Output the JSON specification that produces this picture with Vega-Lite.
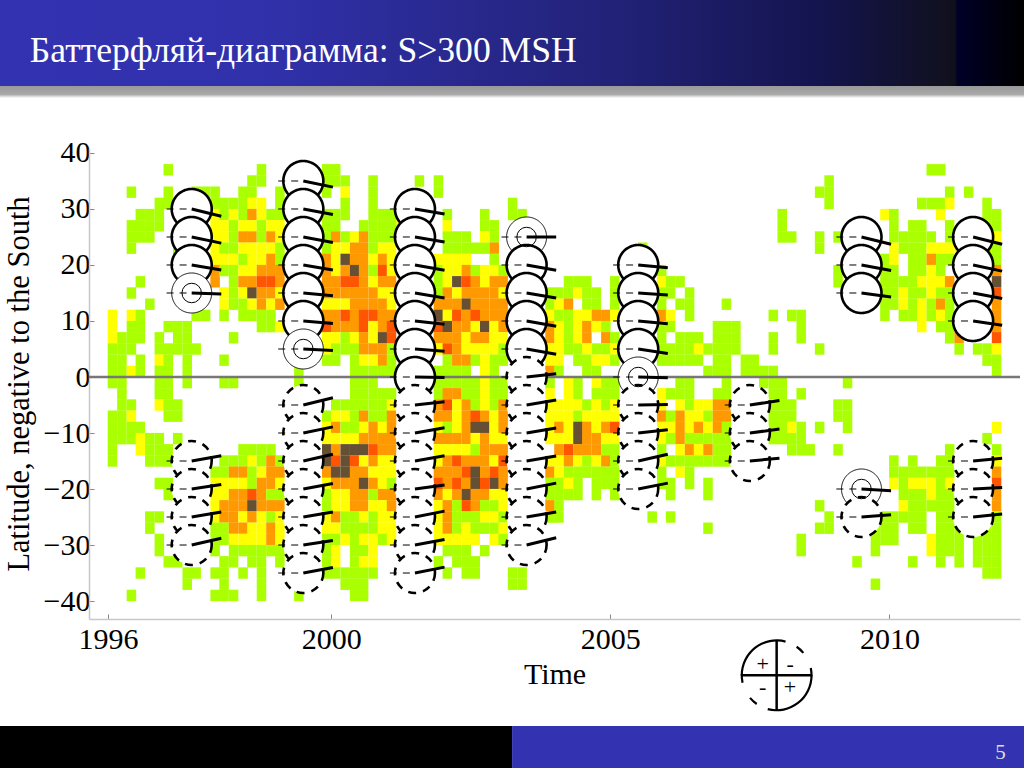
{"$schema":"https://vega.github.io/schema/vega-lite/v6.json","width":931,"height":471,"autosize":"none","padding":{"left":89,"top":148,"right":4,"bottom":149},"background":"white","config":{"view":{"stroke":null},"font":"Liberation Serif"},
"datasets":{"cells":[
{"t":1997.08,"l":37,"v":1},{"t":1998.75,"l":37,"v":1},{"t":1999.92,"l":37,"v":1},{"t":2000.08,"l":37,"v":1},{"t":2010.75,"l":37,"v":1},{"t":2010.92,"l":37,"v":1},
{"t":1998.58,"l":35,"v":1},{"t":1998.75,"l":35,"v":1},{"t":1999.92,"l":35,"v":1},{"t":2000.08,"l":35,"v":1},{"t":2000.25,"l":35,"v":1},{"t":2000.75,"l":35,"v":1},{"t":2001.58,"l":35,"v":1},{"t":2001.92,"l":35,"v":1},{"t":2008.92,"l":35,"v":1},
{"t":1996.42,"l":33,"v":1},{"t":1997.08,"l":33,"v":1},{"t":1997.58,"l":33,"v":1},{"t":1997.75,"l":33,"v":1},{"t":1997.92,"l":33,"v":1},{"t":1998.42,"l":33,"v":1},{"t":1998.58,"l":33,"v":1},{"t":1999.08,"l":33,"v":1},{"t":1999.92,"l":33,"v":1},{"t":2000.25,"l":33,"v":2},{"t":2000.75,"l":33,"v":1},{"t":2001.92,"l":33,"v":1},{"t":2008.75,"l":33,"v":1},{"t":2008.92,"l":33,"v":1},{"t":2011.08,"l":33,"v":1},{"t":2011.42,"l":33,"v":1},
{"t":1996.92,"l":31,"v":1},{"t":1997.08,"l":31,"v":1},{"t":1997.92,"l":31,"v":1},{"t":1998.08,"l":31,"v":1},{"t":1998.25,"l":31,"v":1},{"t":1998.42,"l":31,"v":1},{"t":1998.58,"l":31,"v":2},{"t":1998.75,"l":31,"v":2},{"t":1999.08,"l":31,"v":1},{"t":2000.25,"l":31,"v":1},{"t":2000.75,"l":31,"v":1},{"t":2003.25,"l":31,"v":1},{"t":2008.92,"l":31,"v":1},{"t":2010.58,"l":31,"v":1},{"t":2010.75,"l":31,"v":1},{"t":2010.92,"l":31,"v":1},{"t":2011.08,"l":31,"v":2},{"t":2011.75,"l":31,"v":1},
{"t":1996.58,"l":29,"v":1},{"t":1996.75,"l":29,"v":1},{"t":1996.92,"l":29,"v":1},{"t":1997.92,"l":29,"v":2},{"t":1998.08,"l":29,"v":1},{"t":1998.25,"l":29,"v":2},{"t":1998.42,"l":29,"v":1},{"t":1998.58,"l":29,"v":3},{"t":1998.75,"l":29,"v":2},{"t":1998.92,"l":29,"v":1},{"t":1999.08,"l":29,"v":1},{"t":1999.92,"l":29,"v":1},{"t":2000.08,"l":29,"v":1},{"t":2000.25,"l":29,"v":1},{"t":2000.75,"l":29,"v":1},{"t":2000.92,"l":29,"v":1},{"t":2001.08,"l":29,"v":1},{"t":2001.25,"l":29,"v":1},{"t":2002.08,"l":29,"v":1},{"t":2002.75,"l":29,"v":1},{"t":2003.25,"l":29,"v":1},{"t":2003.42,"l":29,"v":1},{"t":2008.08,"l":29,"v":1},{"t":2009.92,"l":29,"v":2},{"t":2010.08,"l":29,"v":1},{"t":2010.92,"l":29,"v":2},{"t":2011.75,"l":29,"v":1},{"t":2011.92,"l":29,"v":1},
{"t":1996.42,"l":27,"v":1},{"t":1996.58,"l":27,"v":1},{"t":1996.75,"l":27,"v":1},{"t":1996.92,"l":27,"v":1},{"t":1997.92,"l":27,"v":2},{"t":1998.08,"l":27,"v":2},{"t":1998.25,"l":27,"v":1},{"t":1998.42,"l":27,"v":2},{"t":1998.58,"l":27,"v":2},{"t":1998.75,"l":27,"v":1},{"t":1998.92,"l":27,"v":2},{"t":1999.08,"l":27,"v":2},{"t":1999.92,"l":27,"v":1},{"t":2000.08,"l":27,"v":1},{"t":2000.58,"l":27,"v":1},{"t":2000.75,"l":27,"v":1},{"t":2000.92,"l":27,"v":1},{"t":2001.08,"l":27,"v":1},{"t":2001.25,"l":27,"v":2},{"t":2002.08,"l":27,"v":2},{"t":2002.75,"l":27,"v":1},{"t":2002.92,"l":27,"v":1},{"t":2008.08,"l":27,"v":1},{"t":2010.08,"l":27,"v":1},{"t":2010.42,"l":27,"v":1},{"t":2010.58,"l":27,"v":1},{"t":2011.08,"l":27,"v":1},{"t":2011.75,"l":27,"v":1},{"t":2011.92,"l":27,"v":1},
{"t":1996.42,"l":25,"v":1},{"t":1996.58,"l":25,"v":1},{"t":1996.75,"l":25,"v":1},{"t":1997.25,"l":25,"v":1},{"t":1997.92,"l":25,"v":2},{"t":1998.08,"l":25,"v":2},{"t":1998.25,"l":25,"v":1},{"t":1998.42,"l":25,"v":3},{"t":1998.58,"l":25,"v":3},{"t":1998.75,"l":25,"v":1},{"t":1998.92,"l":25,"v":3},{"t":1999.08,"l":25,"v":2},{"t":1999.92,"l":25,"v":1},{"t":2000.08,"l":25,"v":3},{"t":2000.25,"l":25,"v":1},{"t":2000.42,"l":25,"v":2},{"t":2000.58,"l":25,"v":3},{"t":2000.75,"l":25,"v":1},{"t":2000.92,"l":25,"v":1},{"t":2001.08,"l":25,"v":1},{"t":2001.25,"l":25,"v":2},{"t":2002.08,"l":25,"v":1},{"t":2002.25,"l":25,"v":1},{"t":2002.42,"l":25,"v":1},{"t":2002.75,"l":25,"v":2},{"t":2002.92,"l":25,"v":1},{"t":2008.08,"l":25,"v":1},{"t":2008.25,"l":25,"v":1},{"t":2008.75,"l":25,"v":1},{"t":2009.08,"l":25,"v":1},{"t":2010.08,"l":25,"v":1},{"t":2010.25,"l":25,"v":1},{"t":2010.42,"l":25,"v":1},{"t":2010.58,"l":25,"v":1},{"t":2010.75,"l":25,"v":1},{"t":2011.08,"l":25,"v":1},{"t":2011.92,"l":25,"v":2},
{"t":1996.42,"l":23,"v":1},{"t":1997.25,"l":23,"v":1},{"t":1997.92,"l":23,"v":2},{"t":1998.08,"l":23,"v":1},{"t":1998.25,"l":23,"v":1},{"t":1998.42,"l":23,"v":2},{"t":1998.58,"l":23,"v":2},{"t":1998.75,"l":23,"v":2},{"t":1998.92,"l":23,"v":2},{"t":1999.08,"l":23,"v":1},{"t":1999.92,"l":23,"v":1},{"t":2000.08,"l":23,"v":2},{"t":2000.25,"l":23,"v":2},{"t":2000.42,"l":23,"v":3},{"t":2000.58,"l":23,"v":3},{"t":2000.75,"l":23,"v":1},{"t":2000.92,"l":23,"v":2},{"t":2001.08,"l":23,"v":2},{"t":2002.08,"l":23,"v":1},{"t":2002.25,"l":23,"v":1},{"t":2002.42,"l":23,"v":1},{"t":2002.58,"l":23,"v":1},{"t":2002.75,"l":23,"v":1},{"t":2002.92,"l":23,"v":3},{"t":2005.58,"l":23,"v":1},{"t":2008.75,"l":23,"v":1},{"t":2010.08,"l":23,"v":2},{"t":2010.25,"l":23,"v":1},{"t":2010.42,"l":23,"v":1},{"t":2010.58,"l":23,"v":1},{"t":2010.75,"l":23,"v":2},{"t":2010.92,"l":23,"v":2},{"t":2011.08,"l":23,"v":2},{"t":2011.25,"l":23,"v":2},{"t":2011.75,"l":23,"v":1},{"t":2011.92,"l":23,"v":1},
{"t":1997.92,"l":21,"v":2},{"t":1998.08,"l":21,"v":2},{"t":1998.25,"l":21,"v":2},{"t":1998.42,"l":21,"v":1},{"t":1998.58,"l":21,"v":2},{"t":1998.75,"l":21,"v":2},{"t":1998.92,"l":21,"v":3},{"t":1999.08,"l":21,"v":1},{"t":1999.92,"l":21,"v":3},{"t":2000.08,"l":21,"v":2},{"t":2000.25,"l":21,"v":5},{"t":2000.42,"l":21,"v":3},{"t":2000.58,"l":21,"v":3},{"t":2000.75,"l":21,"v":2},{"t":2000.92,"l":21,"v":3},{"t":2001.08,"l":21,"v":2},{"t":2001.92,"l":21,"v":2},{"t":2002.08,"l":21,"v":2},{"t":2002.25,"l":21,"v":2},{"t":2002.42,"l":21,"v":2},{"t":2002.92,"l":21,"v":1},{"t":2009.92,"l":21,"v":1},{"t":2010.08,"l":21,"v":2},{"t":2010.42,"l":21,"v":1},{"t":2010.58,"l":21,"v":1},{"t":2010.75,"l":21,"v":3},{"t":2010.92,"l":21,"v":1},{"t":2011.08,"l":21,"v":1},{"t":2011.75,"l":21,"v":1},{"t":2011.92,"l":21,"v":1},
{"t":1997.92,"l":19,"v":3},{"t":1998.08,"l":19,"v":1},{"t":1998.25,"l":19,"v":1},{"t":1998.42,"l":19,"v":2},{"t":1998.58,"l":19,"v":2},{"t":1998.75,"l":19,"v":3},{"t":1998.92,"l":19,"v":3},{"t":1999.08,"l":19,"v":3},{"t":1999.92,"l":19,"v":3},{"t":2000.08,"l":19,"v":2},{"t":2000.25,"l":19,"v":3},{"t":2000.42,"l":19,"v":5},{"t":2000.58,"l":19,"v":3},{"t":2000.75,"l":19,"v":1},{"t":2000.92,"l":19,"v":4},{"t":2001.08,"l":19,"v":2},{"t":2001.92,"l":19,"v":1},{"t":2002.08,"l":19,"v":2},{"t":2002.25,"l":19,"v":2},{"t":2002.42,"l":19,"v":3},{"t":2002.58,"l":19,"v":1},{"t":2002.75,"l":19,"v":2},{"t":2002.92,"l":19,"v":2},{"t":2003.08,"l":19,"v":1},{"t":2005.92,"l":19,"v":1},{"t":2009.08,"l":19,"v":1},{"t":2009.92,"l":19,"v":1},{"t":2010.08,"l":19,"v":1},{"t":2010.42,"l":19,"v":1},{"t":2010.58,"l":19,"v":1},{"t":2010.75,"l":19,"v":2},{"t":2010.92,"l":19,"v":1},{"t":2011.92,"l":19,"v":3},
{"t":1996.58,"l":17,"v":1},{"t":1997.92,"l":17,"v":3},{"t":1998.25,"l":17,"v":1},{"t":1998.42,"l":17,"v":3},{"t":1998.58,"l":17,"v":3},{"t":1998.75,"l":17,"v":4},{"t":1998.92,"l":17,"v":4},{"t":1999.08,"l":17,"v":3},{"t":1999.92,"l":17,"v":3},{"t":2000.08,"l":17,"v":3},{"t":2000.25,"l":17,"v":4},{"t":2000.42,"l":17,"v":4},{"t":2000.58,"l":17,"v":3},{"t":2000.75,"l":17,"v":2},{"t":2000.92,"l":17,"v":3},{"t":2001.08,"l":17,"v":3},{"t":2001.92,"l":17,"v":1},{"t":2002.08,"l":17,"v":2},{"t":2002.25,"l":17,"v":5},{"t":2002.42,"l":17,"v":4},{"t":2002.58,"l":17,"v":3},{"t":2002.75,"l":17,"v":2},{"t":2002.92,"l":17,"v":3},{"t":2003.08,"l":17,"v":3},{"t":2004.25,"l":17,"v":1},{"t":2004.42,"l":17,"v":1},{"t":2004.58,"l":17,"v":1},{"t":2005.08,"l":17,"v":1},{"t":2005.92,"l":17,"v":2},{"t":2006.08,"l":17,"v":1},{"t":2006.25,"l":17,"v":1},{"t":2009.08,"l":17,"v":1},{"t":2009.92,"l":17,"v":1},{"t":2010.08,"l":17,"v":1},{"t":2010.25,"l":17,"v":1},{"t":2010.42,"l":17,"v":1},{"t":2010.58,"l":17,"v":2},{"t":2010.75,"l":17,"v":2},{"t":2010.92,"l":17,"v":2},{"t":2011.08,"l":17,"v":3},{"t":2011.92,"l":17,"v":5},
{"t":1996.42,"l":15,"v":1},{"t":1998.08,"l":15,"v":2},{"t":1998.25,"l":15,"v":1},{"t":1998.42,"l":15,"v":2},{"t":1998.58,"l":15,"v":5},{"t":1998.75,"l":15,"v":3},{"t":1998.92,"l":15,"v":3},{"t":1999.08,"l":15,"v":2},{"t":1999.92,"l":15,"v":3},{"t":2000.08,"l":15,"v":3},{"t":2000.25,"l":15,"v":3},{"t":2000.42,"l":15,"v":3},{"t":2000.58,"l":15,"v":3},{"t":2000.75,"l":15,"v":3},{"t":2000.92,"l":15,"v":2},{"t":2001.08,"l":15,"v":2},{"t":2001.92,"l":15,"v":1},{"t":2002.08,"l":15,"v":3},{"t":2002.25,"l":15,"v":2},{"t":2002.42,"l":15,"v":3},{"t":2002.58,"l":15,"v":3},{"t":2002.75,"l":15,"v":3},{"t":2002.92,"l":15,"v":3},{"t":2003.08,"l":15,"v":2},{"t":2003.92,"l":15,"v":1},{"t":2004.08,"l":15,"v":1},{"t":2004.25,"l":15,"v":1},{"t":2004.42,"l":15,"v":2},{"t":2004.58,"l":15,"v":1},{"t":2004.75,"l":15,"v":1},{"t":2005.08,"l":15,"v":1},{"t":2005.92,"l":15,"v":1},{"t":2006.08,"l":15,"v":1},{"t":2006.42,"l":15,"v":1},{"t":2009.92,"l":15,"v":1},{"t":2010.08,"l":15,"v":1},{"t":2010.25,"l":15,"v":2},{"t":2010.42,"l":15,"v":1},{"t":2010.58,"l":15,"v":1},{"t":2010.75,"l":15,"v":2},{"t":2010.92,"l":15,"v":1},{"t":2011.08,"l":15,"v":1},{"t":2011.92,"l":15,"v":4},
{"t":1996.75,"l":13,"v":1},{"t":1998.08,"l":13,"v":2},{"t":1998.25,"l":13,"v":1},{"t":1998.42,"l":13,"v":1},{"t":1998.58,"l":13,"v":2},{"t":1998.75,"l":13,"v":3},{"t":1998.92,"l":13,"v":2},{"t":1999.08,"l":13,"v":3},{"t":1999.92,"l":13,"v":2},{"t":2000.08,"l":13,"v":2},{"t":2000.25,"l":13,"v":2},{"t":2000.42,"l":13,"v":3},{"t":2000.58,"l":13,"v":3},{"t":2000.75,"l":13,"v":3},{"t":2000.92,"l":13,"v":3},{"t":2001.08,"l":13,"v":2},{"t":2001.92,"l":13,"v":3},{"t":2002.08,"l":13,"v":3},{"t":2002.25,"l":13,"v":3},{"t":2002.42,"l":13,"v":5},{"t":2002.58,"l":13,"v":3},{"t":2002.75,"l":13,"v":3},{"t":2002.92,"l":13,"v":3},{"t":2003.08,"l":13,"v":3},{"t":2003.92,"l":13,"v":1},{"t":2004.08,"l":13,"v":2},{"t":2004.25,"l":13,"v":3},{"t":2004.58,"l":13,"v":1},{"t":2004.75,"l":13,"v":1},{"t":2005.08,"l":13,"v":1},{"t":2005.92,"l":13,"v":1},{"t":2006.25,"l":13,"v":1},{"t":2006.42,"l":13,"v":1},{"t":2007.08,"l":13,"v":1},{"t":2009.92,"l":13,"v":1},{"t":2010.08,"l":13,"v":1},{"t":2010.25,"l":13,"v":2},{"t":2010.42,"l":13,"v":1},{"t":2010.58,"l":13,"v":2},{"t":2010.75,"l":13,"v":1},{"t":2010.92,"l":13,"v":3},{"t":2011.08,"l":13,"v":1},{"t":2011.92,"l":13,"v":3},
{"t":1996.08,"l":11,"v":2},{"t":1996.42,"l":11,"v":2},{"t":1996.58,"l":11,"v":1},{"t":1997.58,"l":11,"v":1},{"t":1997.75,"l":11,"v":1},{"t":1998.08,"l":11,"v":1},{"t":1998.42,"l":11,"v":1},{"t":1998.58,"l":11,"v":1},{"t":1998.75,"l":11,"v":1},{"t":1998.92,"l":11,"v":1},{"t":1999.92,"l":11,"v":3},{"t":2000.08,"l":11,"v":3},{"t":2000.25,"l":11,"v":4},{"t":2000.42,"l":11,"v":3},{"t":2000.58,"l":11,"v":4},{"t":2000.75,"l":11,"v":4},{"t":2000.92,"l":11,"v":3},{"t":2001.08,"l":11,"v":3},{"t":2001.92,"l":11,"v":5},{"t":2002.08,"l":11,"v":2},{"t":2002.25,"l":11,"v":4},{"t":2002.42,"l":11,"v":3},{"t":2002.58,"l":11,"v":4},{"t":2002.75,"l":11,"v":3},{"t":2002.92,"l":11,"v":3},{"t":2003.08,"l":11,"v":3},{"t":2003.92,"l":11,"v":2},{"t":2004.08,"l":11,"v":1},{"t":2004.25,"l":11,"v":1},{"t":2004.42,"l":11,"v":2},{"t":2004.58,"l":11,"v":2},{"t":2004.75,"l":11,"v":3},{"t":2004.92,"l":11,"v":3},{"t":2005.08,"l":11,"v":2},{"t":2005.92,"l":11,"v":3},{"t":2006.08,"l":11,"v":2},{"t":2006.42,"l":11,"v":1},{"t":2007.92,"l":11,"v":1},{"t":2008.25,"l":11,"v":1},{"t":2008.42,"l":11,"v":1},{"t":2009.92,"l":11,"v":1},{"t":2010.25,"l":11,"v":1},{"t":2010.42,"l":11,"v":1},{"t":2010.58,"l":11,"v":2},{"t":2010.75,"l":11,"v":1},{"t":2010.92,"l":11,"v":2},{"t":2011.08,"l":11,"v":1},{"t":2011.92,"l":11,"v":3},
{"t":1996.08,"l":9,"v":2},{"t":1996.42,"l":9,"v":1},{"t":1996.58,"l":9,"v":1},{"t":1997.08,"l":9,"v":1},{"t":1997.25,"l":9,"v":1},{"t":1997.42,"l":9,"v":1},{"t":1998.75,"l":9,"v":1},{"t":1998.92,"l":9,"v":1},{"t":1999.08,"l":9,"v":2},{"t":1999.92,"l":9,"v":4},{"t":2000.08,"l":9,"v":3},{"t":2000.25,"l":9,"v":3},{"t":2000.42,"l":9,"v":3},{"t":2000.58,"l":9,"v":4},{"t":2000.75,"l":9,"v":2},{"t":2000.92,"l":9,"v":3},{"t":2001.08,"l":9,"v":4},{"t":2001.92,"l":9,"v":4},{"t":2002.08,"l":9,"v":5},{"t":2002.25,"l":9,"v":3},{"t":2002.42,"l":9,"v":3},{"t":2002.58,"l":9,"v":2},{"t":2002.75,"l":9,"v":5},{"t":2002.92,"l":9,"v":2},{"t":2003.08,"l":9,"v":3},{"t":2003.92,"l":9,"v":3},{"t":2004.08,"l":9,"v":2},{"t":2004.25,"l":9,"v":1},{"t":2004.42,"l":9,"v":2},{"t":2004.58,"l":9,"v":3},{"t":2004.75,"l":9,"v":2},{"t":2004.92,"l":9,"v":1},{"t":2005.92,"l":9,"v":1},{"t":2006.08,"l":9,"v":1},{"t":2006.92,"l":9,"v":1},{"t":2007.08,"l":9,"v":1},{"t":2007.25,"l":9,"v":1},{"t":2008.42,"l":9,"v":1},{"t":2010.58,"l":9,"v":2},{"t":2010.92,"l":9,"v":1},{"t":2011.08,"l":9,"v":1},{"t":2011.92,"l":9,"v":3},
{"t":1996.08,"l":7,"v":2},{"t":1996.25,"l":7,"v":1},{"t":1996.42,"l":7,"v":1},{"t":1996.58,"l":7,"v":1},{"t":1996.92,"l":7,"v":1},{"t":1997.25,"l":7,"v":1},{"t":1997.42,"l":7,"v":1},{"t":1998.25,"l":7,"v":1},{"t":1999.92,"l":7,"v":2},{"t":2000.08,"l":7,"v":2},{"t":2000.25,"l":7,"v":1},{"t":2000.42,"l":7,"v":2},{"t":2000.58,"l":7,"v":3},{"t":2000.75,"l":7,"v":2},{"t":2000.92,"l":7,"v":5},{"t":2001.08,"l":7,"v":4},{"t":2001.92,"l":7,"v":3},{"t":2002.08,"l":7,"v":3},{"t":2002.25,"l":7,"v":3},{"t":2002.42,"l":7,"v":2},{"t":2002.58,"l":7,"v":3},{"t":2002.75,"l":7,"v":3},{"t":2002.92,"l":7,"v":2},{"t":2003.08,"l":7,"v":2},{"t":2003.92,"l":7,"v":3},{"t":2004.08,"l":7,"v":2},{"t":2004.25,"l":7,"v":1},{"t":2004.42,"l":7,"v":2},{"t":2004.58,"l":7,"v":3},{"t":2004.92,"l":7,"v":3},{"t":2005.08,"l":7,"v":1},{"t":2005.92,"l":7,"v":1},{"t":2006.25,"l":7,"v":1},{"t":2006.42,"l":7,"v":1},{"t":2006.58,"l":7,"v":1},{"t":2006.92,"l":7,"v":1},{"t":2007.08,"l":7,"v":1},{"t":2007.25,"l":7,"v":1},{"t":2007.92,"l":7,"v":1},{"t":2008.42,"l":7,"v":1},{"t":2011.08,"l":7,"v":1},{"t":2011.25,"l":7,"v":3},{"t":2011.92,"l":7,"v":4},
{"t":1996.08,"l":5,"v":1},{"t":1996.25,"l":5,"v":1},{"t":1996.42,"l":5,"v":1},{"t":1996.92,"l":5,"v":1},{"t":1997.08,"l":5,"v":1},{"t":1997.25,"l":5,"v":1},{"t":1997.42,"l":5,"v":1},{"t":1997.58,"l":5,"v":1},{"t":1999.92,"l":5,"v":2},{"t":2000.08,"l":5,"v":1},{"t":2000.25,"l":5,"v":1},{"t":2000.42,"l":5,"v":1},{"t":2000.58,"l":5,"v":3},{"t":2000.75,"l":5,"v":3},{"t":2000.92,"l":5,"v":3},{"t":2001.08,"l":5,"v":1},{"t":2001.92,"l":5,"v":2},{"t":2002.08,"l":5,"v":4},{"t":2002.25,"l":5,"v":3},{"t":2002.42,"l":5,"v":2},{"t":2002.58,"l":5,"v":2},{"t":2002.75,"l":5,"v":2},{"t":2002.92,"l":5,"v":2},{"t":2003.08,"l":5,"v":1},{"t":2003.92,"l":5,"v":2},{"t":2004.08,"l":5,"v":2},{"t":2004.25,"l":5,"v":1},{"t":2004.42,"l":5,"v":1},{"t":2004.58,"l":5,"v":2},{"t":2004.75,"l":5,"v":1},{"t":2004.92,"l":5,"v":1},{"t":2005.08,"l":5,"v":2},{"t":2005.92,"l":5,"v":1},{"t":2006.08,"l":5,"v":1},{"t":2006.25,"l":5,"v":1},{"t":2006.42,"l":5,"v":1},{"t":2006.58,"l":5,"v":2},{"t":2006.75,"l":5,"v":1},{"t":2006.92,"l":5,"v":1},{"t":2007.08,"l":5,"v":1},{"t":2007.25,"l":5,"v":1},{"t":2007.92,"l":5,"v":1},{"t":2008.75,"l":5,"v":1},{"t":2011.25,"l":5,"v":1},{"t":2011.58,"l":5,"v":1},{"t":2011.75,"l":5,"v":1},{"t":2011.92,"l":5,"v":2},
{"t":1996.08,"l":3,"v":1},{"t":1996.25,"l":3,"v":1},{"t":1996.58,"l":3,"v":1},{"t":1996.92,"l":3,"v":2},{"t":1997.08,"l":3,"v":1},{"t":1997.42,"l":3,"v":1},{"t":1998.08,"l":3,"v":1},{"t":1999.92,"l":3,"v":1},{"t":2000.08,"l":3,"v":1},{"t":2000.42,"l":3,"v":1},{"t":2000.58,"l":3,"v":2},{"t":2000.75,"l":3,"v":2},{"t":2000.92,"l":3,"v":3},{"t":2001.08,"l":3,"v":1},{"t":2002.08,"l":3,"v":1},{"t":2002.25,"l":3,"v":3},{"t":2002.42,"l":3,"v":3},{"t":2002.58,"l":3,"v":1},{"t":2002.75,"l":3,"v":2},{"t":2002.92,"l":3,"v":1},{"t":2003.08,"l":3,"v":1},{"t":2003.92,"l":3,"v":2},{"t":2004.08,"l":3,"v":2},{"t":2004.42,"l":3,"v":1},{"t":2004.58,"l":3,"v":1},{"t":2004.75,"l":3,"v":2},{"t":2004.92,"l":3,"v":2},{"t":2005.08,"l":3,"v":1},{"t":2005.92,"l":3,"v":1},{"t":2006.08,"l":3,"v":1},{"t":2006.25,"l":3,"v":1},{"t":2006.42,"l":3,"v":1},{"t":2006.58,"l":3,"v":1},{"t":2006.92,"l":3,"v":1},{"t":2007.08,"l":3,"v":1},{"t":2007.42,"l":3,"v":1},{"t":2007.58,"l":3,"v":1},{"t":2011.75,"l":3,"v":1},{"t":2011.92,"l":3,"v":1},
{"t":1996.08,"l":1,"v":1},{"t":1996.25,"l":1,"v":1},{"t":1996.42,"l":1,"v":2},{"t":1996.58,"l":1,"v":1},{"t":1996.92,"l":1,"v":1},{"t":1997.08,"l":1,"v":1},{"t":1997.42,"l":1,"v":1},{"t":1999.42,"l":1,"v":1},{"t":2000.42,"l":1,"v":1},{"t":2000.58,"l":1,"v":1},{"t":2000.75,"l":1,"v":1},{"t":2000.92,"l":1,"v":1},{"t":2001.08,"l":1,"v":1},{"t":2001.92,"l":1,"v":1},{"t":2002.08,"l":1,"v":1},{"t":2002.25,"l":1,"v":1},{"t":2002.42,"l":1,"v":1},{"t":2002.75,"l":1,"v":2},{"t":2002.92,"l":1,"v":1},{"t":2003.92,"l":1,"v":3},{"t":2004.08,"l":1,"v":1},{"t":2004.58,"l":1,"v":1},{"t":2004.75,"l":1,"v":1},{"t":2006.75,"l":1,"v":1},{"t":2006.92,"l":1,"v":1},{"t":2007.08,"l":1,"v":1},{"t":2007.42,"l":1,"v":1},{"t":2007.58,"l":1,"v":1},{"t":2007.75,"l":1,"v":1},{"t":2007.92,"l":1,"v":1},{"t":2011.92,"l":1,"v":1},
{"t":1996.08,"l":-1,"v":1},{"t":1996.25,"l":-1,"v":1},{"t":1996.92,"l":-1,"v":1},{"t":1997.08,"l":-1,"v":1},{"t":1997.42,"l":-1,"v":1},{"t":1998.08,"l":-1,"v":1},{"t":1998.25,"l":-1,"v":1},{"t":1999.42,"l":-1,"v":1},{"t":2000.42,"l":-1,"v":1},{"t":2000.58,"l":-1,"v":1},{"t":2000.75,"l":-1,"v":1},{"t":2001.92,"l":-1,"v":1},{"t":2002.08,"l":-1,"v":1},{"t":2002.25,"l":-1,"v":1},{"t":2002.42,"l":-1,"v":1},{"t":2002.58,"l":-1,"v":1},{"t":2002.75,"l":-1,"v":2},{"t":2002.92,"l":-1,"v":1},{"t":2003.08,"l":-1,"v":1},{"t":2003.92,"l":-1,"v":1},{"t":2004.25,"l":-1,"v":2},{"t":2004.42,"l":-1,"v":1},{"t":2004.75,"l":-1,"v":2},{"t":2004.92,"l":-1,"v":1},{"t":2005.08,"l":-1,"v":1},{"t":2006.25,"l":-1,"v":1},{"t":2006.42,"l":-1,"v":1},{"t":2007.08,"l":-1,"v":1},{"t":2007.75,"l":-1,"v":1},{"t":2007.92,"l":-1,"v":1},{"t":2008.08,"l":-1,"v":1},{"t":2009.25,"l":-1,"v":1},
{"t":1996.25,"l":-3,"v":1},{"t":1996.92,"l":-3,"v":1},{"t":1997.08,"l":-3,"v":1},{"t":2000.42,"l":-3,"v":1},{"t":2000.58,"l":-3,"v":1},{"t":2000.75,"l":-3,"v":1},{"t":2000.92,"l":-3,"v":1},{"t":2001.08,"l":-3,"v":1},{"t":2001.92,"l":-3,"v":1},{"t":2002.08,"l":-3,"v":3},{"t":2002.25,"l":-3,"v":3},{"t":2002.42,"l":-3,"v":1},{"t":2002.58,"l":-3,"v":1},{"t":2002.75,"l":-3,"v":2},{"t":2002.92,"l":-3,"v":1},{"t":2003.08,"l":-3,"v":1},{"t":2003.92,"l":-3,"v":2},{"t":2004.25,"l":-3,"v":2},{"t":2004.42,"l":-3,"v":1},{"t":2004.75,"l":-3,"v":1},{"t":2004.92,"l":-3,"v":1},{"t":2005.08,"l":-3,"v":1},{"t":2005.92,"l":-3,"v":2},{"t":2006.08,"l":-3,"v":1},{"t":2006.25,"l":-3,"v":1},{"t":2006.42,"l":-3,"v":1},{"t":2006.92,"l":-3,"v":1},{"t":2007.08,"l":-3,"v":1},{"t":2007.92,"l":-3,"v":1},{"t":2008.08,"l":-3,"v":1},{"t":2008.42,"l":-3,"v":1},
{"t":1996.25,"l":-5,"v":1},{"t":1996.42,"l":-5,"v":1},{"t":1996.92,"l":-5,"v":2},{"t":1997.08,"l":-5,"v":1},{"t":1997.25,"l":-5,"v":1},{"t":2000.08,"l":-5,"v":1},{"t":2000.25,"l":-5,"v":1},{"t":2000.42,"l":-5,"v":1},{"t":2000.58,"l":-5,"v":1},{"t":2000.75,"l":-5,"v":1},{"t":2000.92,"l":-5,"v":1},{"t":2001.08,"l":-5,"v":2},{"t":2001.92,"l":-5,"v":3},{"t":2002.08,"l":-5,"v":4},{"t":2002.25,"l":-5,"v":2},{"t":2002.42,"l":-5,"v":3},{"t":2002.58,"l":-5,"v":1},{"t":2002.75,"l":-5,"v":2},{"t":2002.92,"l":-5,"v":1},{"t":2003.08,"l":-5,"v":3},{"t":2003.92,"l":-5,"v":2},{"t":2004.08,"l":-5,"v":2},{"t":2004.25,"l":-5,"v":2},{"t":2004.42,"l":-5,"v":2},{"t":2004.58,"l":-5,"v":1},{"t":2004.75,"l":-5,"v":2},{"t":2004.92,"l":-5,"v":1},{"t":2005.08,"l":-5,"v":2},{"t":2005.92,"l":-5,"v":2},{"t":2006.25,"l":-5,"v":2},{"t":2006.42,"l":-5,"v":1},{"t":2006.58,"l":-5,"v":2},{"t":2006.75,"l":-5,"v":2},{"t":2006.92,"l":-5,"v":3},{"t":2007.08,"l":-5,"v":3},{"t":2007.92,"l":-5,"v":1},{"t":2008.08,"l":-5,"v":1},{"t":2008.25,"l":-5,"v":1},{"t":2009.08,"l":-5,"v":1},{"t":2009.25,"l":-5,"v":1},
{"t":1996.08,"l":-7,"v":1},{"t":1996.25,"l":-7,"v":1},{"t":1996.42,"l":-7,"v":2},{"t":1997.08,"l":-7,"v":1},{"t":1997.25,"l":-7,"v":1},{"t":1999.92,"l":-7,"v":1},{"t":2000.08,"l":-7,"v":2},{"t":2000.25,"l":-7,"v":2},{"t":2000.42,"l":-7,"v":1},{"t":2000.58,"l":-7,"v":3},{"t":2000.75,"l":-7,"v":1},{"t":2000.92,"l":-7,"v":1},{"t":2001.08,"l":-7,"v":3},{"t":2001.92,"l":-7,"v":3},{"t":2002.08,"l":-7,"v":3},{"t":2002.25,"l":-7,"v":2},{"t":2002.42,"l":-7,"v":3},{"t":2002.58,"l":-7,"v":4},{"t":2002.75,"l":-7,"v":3},{"t":2002.92,"l":-7,"v":2},{"t":2003.08,"l":-7,"v":3},{"t":2003.92,"l":-7,"v":2},{"t":2004.08,"l":-7,"v":2},{"t":2004.25,"l":-7,"v":2},{"t":2004.42,"l":-7,"v":1},{"t":2004.58,"l":-7,"v":2},{"t":2004.75,"l":-7,"v":2},{"t":2004.92,"l":-7,"v":2},{"t":2005.08,"l":-7,"v":2},{"t":2005.92,"l":-7,"v":3},{"t":2006.08,"l":-7,"v":1},{"t":2006.25,"l":-7,"v":3},{"t":2006.42,"l":-7,"v":2},{"t":2006.58,"l":-7,"v":2},{"t":2006.75,"l":-7,"v":1},{"t":2006.92,"l":-7,"v":3},{"t":2007.08,"l":-7,"v":3},{"t":2007.92,"l":-7,"v":1},{"t":2008.08,"l":-7,"v":1},{"t":2008.25,"l":-7,"v":1},{"t":2009.08,"l":-7,"v":1},{"t":2009.25,"l":-7,"v":1},
{"t":1996.08,"l":-9,"v":1},{"t":1996.25,"l":-9,"v":1},{"t":1996.42,"l":-9,"v":1},{"t":1996.58,"l":-9,"v":1},{"t":1999.92,"l":-9,"v":2},{"t":2000.08,"l":-9,"v":3},{"t":2000.25,"l":-9,"v":1},{"t":2000.42,"l":-9,"v":1},{"t":2000.58,"l":-9,"v":2},{"t":2000.75,"l":-9,"v":3},{"t":2000.92,"l":-9,"v":2},{"t":2001.08,"l":-9,"v":3},{"t":2001.92,"l":-9,"v":2},{"t":2002.08,"l":-9,"v":1},{"t":2002.25,"l":-9,"v":2},{"t":2002.42,"l":-9,"v":3},{"t":2002.58,"l":-9,"v":5},{"t":2002.75,"l":-9,"v":5},{"t":2002.92,"l":-9,"v":2},{"t":2003.08,"l":-9,"v":3},{"t":2003.92,"l":-9,"v":2},{"t":2004.08,"l":-9,"v":3},{"t":2004.25,"l":-9,"v":2},{"t":2004.42,"l":-9,"v":5},{"t":2004.58,"l":-9,"v":3},{"t":2004.75,"l":-9,"v":2},{"t":2004.92,"l":-9,"v":3},{"t":2005.08,"l":-9,"v":4},{"t":2005.92,"l":-9,"v":2},{"t":2006.08,"l":-9,"v":2},{"t":2006.25,"l":-9,"v":3},{"t":2006.42,"l":-9,"v":2},{"t":2006.58,"l":-9,"v":3},{"t":2006.75,"l":-9,"v":2},{"t":2006.92,"l":-9,"v":3},{"t":2007.08,"l":-9,"v":1},{"t":2007.92,"l":-9,"v":1},{"t":2008.08,"l":-9,"v":1},{"t":2008.25,"l":-9,"v":2},{"t":2008.42,"l":-9,"v":1},{"t":2008.75,"l":-9,"v":1},{"t":2009.25,"l":-9,"v":1},{"t":2011.92,"l":-9,"v":2},
{"t":1996.08,"l":-11,"v":1},{"t":1996.25,"l":-11,"v":1},{"t":1996.42,"l":-11,"v":1},{"t":1996.58,"l":-11,"v":2},{"t":1996.75,"l":-11,"v":1},{"t":1996.92,"l":-11,"v":1},{"t":1997.25,"l":-11,"v":1},{"t":1999.92,"l":-11,"v":2},{"t":2000.08,"l":-11,"v":2},{"t":2000.25,"l":-11,"v":2},{"t":2000.42,"l":-11,"v":2},{"t":2000.58,"l":-11,"v":3},{"t":2000.75,"l":-11,"v":3},{"t":2000.92,"l":-11,"v":3},{"t":2001.08,"l":-11,"v":3},{"t":2001.92,"l":-11,"v":3},{"t":2002.08,"l":-11,"v":3},{"t":2002.25,"l":-11,"v":3},{"t":2002.42,"l":-11,"v":3},{"t":2002.58,"l":-11,"v":2},{"t":2002.75,"l":-11,"v":3},{"t":2002.92,"l":-11,"v":2},{"t":2003.08,"l":-11,"v":2},{"t":2003.92,"l":-11,"v":2},{"t":2004.08,"l":-11,"v":2},{"t":2004.25,"l":-11,"v":2},{"t":2004.42,"l":-11,"v":5},{"t":2004.58,"l":-11,"v":3},{"t":2004.75,"l":-11,"v":3},{"t":2004.92,"l":-11,"v":2},{"t":2005.08,"l":-11,"v":2},{"t":2005.92,"l":-11,"v":2},{"t":2006.08,"l":-11,"v":1},{"t":2006.25,"l":-11,"v":3},{"t":2006.42,"l":-11,"v":1},{"t":2006.58,"l":-11,"v":1},{"t":2006.75,"l":-11,"v":1},{"t":2006.92,"l":-11,"v":1},{"t":2007.08,"l":-11,"v":1},{"t":2007.92,"l":-11,"v":1},{"t":2008.08,"l":-11,"v":1},{"t":2008.25,"l":-11,"v":1},{"t":2008.42,"l":-11,"v":1},{"t":2011.75,"l":-11,"v":1},
{"t":1996.08,"l":-13,"v":1},{"t":1996.58,"l":-13,"v":2},{"t":1996.75,"l":-13,"v":1},{"t":1996.92,"l":-13,"v":1},{"t":1997.08,"l":-13,"v":1},{"t":1998.42,"l":-13,"v":1},{"t":1998.58,"l":-13,"v":1},{"t":1998.75,"l":-13,"v":1},{"t":1998.92,"l":-13,"v":1},{"t":1999.92,"l":-13,"v":5},{"t":2000.08,"l":-13,"v":3},{"t":2000.25,"l":-13,"v":5},{"t":2000.42,"l":-13,"v":5},{"t":2000.58,"l":-13,"v":5},{"t":2000.75,"l":-13,"v":4},{"t":2000.92,"l":-13,"v":3},{"t":2001.08,"l":-13,"v":3},{"t":2001.92,"l":-13,"v":2},{"t":2002.08,"l":-13,"v":2},{"t":2002.25,"l":-13,"v":2},{"t":2002.42,"l":-13,"v":2},{"t":2002.58,"l":-13,"v":1},{"t":2002.75,"l":-13,"v":3},{"t":2002.92,"l":-13,"v":3},{"t":2003.08,"l":-13,"v":3},{"t":2004.08,"l":-13,"v":3},{"t":2004.25,"l":-13,"v":4},{"t":2004.42,"l":-13,"v":3},{"t":2004.58,"l":-13,"v":3},{"t":2004.75,"l":-13,"v":3},{"t":2004.92,"l":-13,"v":1},{"t":2005.08,"l":-13,"v":1},{"t":2005.92,"l":-13,"v":1},{"t":2006.25,"l":-13,"v":2},{"t":2006.42,"l":-13,"v":3},{"t":2006.58,"l":-13,"v":2},{"t":2006.75,"l":-13,"v":3},{"t":2006.92,"l":-13,"v":1},{"t":2007.08,"l":-13,"v":1},{"t":2008.25,"l":-13,"v":1},{"t":2008.42,"l":-13,"v":1},{"t":2008.58,"l":-13,"v":1},{"t":2009.08,"l":-13,"v":1},{"t":2011.08,"l":-13,"v":1},{"t":2011.92,"l":-13,"v":1},
{"t":1996.08,"l":-15,"v":1},{"t":1996.75,"l":-15,"v":1},{"t":1996.92,"l":-15,"v":1},{"t":1997.08,"l":-15,"v":1},{"t":1998.08,"l":-15,"v":1},{"t":1998.25,"l":-15,"v":1},{"t":1998.42,"l":-15,"v":1},{"t":1998.58,"l":-15,"v":2},{"t":1998.75,"l":-15,"v":1},{"t":1998.92,"l":-15,"v":3},{"t":1999.08,"l":-15,"v":1},{"t":1999.92,"l":-15,"v":5},{"t":2000.08,"l":-15,"v":4},{"t":2000.25,"l":-15,"v":5},{"t":2000.42,"l":-15,"v":4},{"t":2000.58,"l":-15,"v":2},{"t":2000.75,"l":-15,"v":3},{"t":2000.92,"l":-15,"v":2},{"t":2001.08,"l":-15,"v":2},{"t":2001.92,"l":-15,"v":2},{"t":2002.08,"l":-15,"v":3},{"t":2002.25,"l":-15,"v":4},{"t":2002.42,"l":-15,"v":3},{"t":2002.58,"l":-15,"v":3},{"t":2002.75,"l":-15,"v":3},{"t":2002.92,"l":-15,"v":2},{"t":2003.08,"l":-15,"v":4},{"t":2003.92,"l":-15,"v":2},{"t":2004.08,"l":-15,"v":2},{"t":2004.25,"l":-15,"v":3},{"t":2004.42,"l":-15,"v":2},{"t":2004.58,"l":-15,"v":1},{"t":2004.75,"l":-15,"v":2},{"t":2004.92,"l":-15,"v":3},{"t":2005.08,"l":-15,"v":1},{"t":2005.92,"l":-15,"v":2},{"t":2006.08,"l":-15,"v":1},{"t":2006.25,"l":-15,"v":1},{"t":2006.42,"l":-15,"v":1},{"t":2006.58,"l":-15,"v":1},{"t":2006.75,"l":-15,"v":1},{"t":2006.92,"l":-15,"v":1},{"t":2007.08,"l":-15,"v":1},{"t":2010.08,"l":-15,"v":1},{"t":2010.42,"l":-15,"v":1},{"t":2010.92,"l":-15,"v":1},{"t":2011.08,"l":-15,"v":1},{"t":2011.92,"l":-15,"v":2},
{"t":1997.92,"l":-17,"v":1},{"t":1998.08,"l":-17,"v":1},{"t":1998.25,"l":-17,"v":3},{"t":1998.42,"l":-17,"v":3},{"t":1998.58,"l":-17,"v":1},{"t":1998.75,"l":-17,"v":2},{"t":1998.92,"l":-17,"v":3},{"t":1999.08,"l":-17,"v":3},{"t":1999.92,"l":-17,"v":3},{"t":2000.08,"l":-17,"v":5},{"t":2000.25,"l":-17,"v":5},{"t":2000.42,"l":-17,"v":3},{"t":2000.58,"l":-17,"v":3},{"t":2000.75,"l":-17,"v":2},{"t":2000.92,"l":-17,"v":2},{"t":2001.08,"l":-17,"v":2},{"t":2001.92,"l":-17,"v":3},{"t":2002.08,"l":-17,"v":3},{"t":2002.25,"l":-17,"v":3},{"t":2002.42,"l":-17,"v":4},{"t":2002.58,"l":-17,"v":5},{"t":2002.75,"l":-17,"v":3},{"t":2002.92,"l":-17,"v":4},{"t":2003.08,"l":-17,"v":3},{"t":2003.92,"l":-17,"v":3},{"t":2004.08,"l":-17,"v":2},{"t":2004.25,"l":-17,"v":1},{"t":2004.42,"l":-17,"v":1},{"t":2004.58,"l":-17,"v":1},{"t":2004.75,"l":-17,"v":1},{"t":2004.92,"l":-17,"v":1},{"t":2005.08,"l":-17,"v":1},{"t":2005.92,"l":-17,"v":1},{"t":2006.25,"l":-17,"v":2},{"t":2006.42,"l":-17,"v":1},{"t":2010.08,"l":-17,"v":1},{"t":2010.25,"l":-17,"v":1},{"t":2010.42,"l":-17,"v":1},{"t":2010.58,"l":-17,"v":1},{"t":2010.75,"l":-17,"v":1},{"t":2010.92,"l":-17,"v":1},{"t":2011.08,"l":-17,"v":1},{"t":2011.92,"l":-17,"v":3},
{"t":1996.92,"l":-19,"v":1},{"t":1997.08,"l":-19,"v":1},{"t":1997.92,"l":-19,"v":2},{"t":1998.08,"l":-19,"v":2},{"t":1998.25,"l":-19,"v":2},{"t":1998.42,"l":-19,"v":2},{"t":1998.58,"l":-19,"v":1},{"t":1998.75,"l":-19,"v":3},{"t":1998.92,"l":-19,"v":3},{"t":1999.08,"l":-19,"v":2},{"t":1999.92,"l":-19,"v":2},{"t":2000.08,"l":-19,"v":3},{"t":2000.25,"l":-19,"v":3},{"t":2000.42,"l":-19,"v":3},{"t":2000.58,"l":-19,"v":5},{"t":2000.75,"l":-19,"v":3},{"t":2000.92,"l":-19,"v":2},{"t":2001.08,"l":-19,"v":1},{"t":2001.92,"l":-19,"v":4},{"t":2002.08,"l":-19,"v":3},{"t":2002.25,"l":-19,"v":4},{"t":2002.42,"l":-19,"v":3},{"t":2002.58,"l":-19,"v":5},{"t":2002.75,"l":-19,"v":4},{"t":2002.92,"l":-19,"v":5},{"t":2003.08,"l":-19,"v":3},{"t":2003.92,"l":-19,"v":1},{"t":2004.08,"l":-19,"v":1},{"t":2004.25,"l":-19,"v":2},{"t":2004.42,"l":-19,"v":1},{"t":2004.75,"l":-19,"v":1},{"t":2004.92,"l":-19,"v":1},{"t":2005.08,"l":-19,"v":1},{"t":2005.92,"l":-19,"v":1},{"t":2006.08,"l":-19,"v":1},{"t":2006.42,"l":-19,"v":1},{"t":2006.75,"l":-19,"v":1},{"t":2010.08,"l":-19,"v":2},{"t":2010.25,"l":-19,"v":1},{"t":2010.42,"l":-19,"v":2},{"t":2010.58,"l":-19,"v":2},{"t":2010.75,"l":-19,"v":2},{"t":2010.92,"l":-19,"v":1},{"t":2011.08,"l":-19,"v":2},{"t":2011.92,"l":-19,"v":4},
{"t":1997.08,"l":-21,"v":1},{"t":1997.92,"l":-21,"v":2},{"t":1998.08,"l":-21,"v":2},{"t":1998.25,"l":-21,"v":3},{"t":1998.42,"l":-21,"v":3},{"t":1998.58,"l":-21,"v":4},{"t":1998.75,"l":-21,"v":3},{"t":1998.92,"l":-21,"v":1},{"t":1999.08,"l":-21,"v":1},{"t":1999.92,"l":-21,"v":1},{"t":2000.08,"l":-21,"v":2},{"t":2000.25,"l":-21,"v":2},{"t":2000.42,"l":-21,"v":3},{"t":2000.58,"l":-21,"v":3},{"t":2000.75,"l":-21,"v":1},{"t":2000.92,"l":-21,"v":3},{"t":2001.08,"l":-21,"v":3},{"t":2001.92,"l":-21,"v":3},{"t":2002.08,"l":-21,"v":2},{"t":2002.25,"l":-21,"v":3},{"t":2002.42,"l":-21,"v":5},{"t":2002.58,"l":-21,"v":3},{"t":2002.75,"l":-21,"v":3},{"t":2002.92,"l":-21,"v":2},{"t":2003.08,"l":-21,"v":2},{"t":2003.92,"l":-21,"v":1},{"t":2004.08,"l":-21,"v":1},{"t":2004.25,"l":-21,"v":1},{"t":2004.42,"l":-21,"v":1},{"t":2004.75,"l":-21,"v":1},{"t":2005.08,"l":-21,"v":1},{"t":2006.08,"l":-21,"v":1},{"t":2006.75,"l":-21,"v":1},{"t":2010.25,"l":-21,"v":1},{"t":2010.42,"l":-21,"v":1},{"t":2010.58,"l":-21,"v":1},{"t":2010.75,"l":-21,"v":2},{"t":2010.92,"l":-21,"v":1},{"t":2011.08,"l":-21,"v":1},{"t":2011.92,"l":-21,"v":3},
{"t":1997.92,"l":-23,"v":2},{"t":1998.08,"l":-23,"v":3},{"t":1998.25,"l":-23,"v":3},{"t":1998.42,"l":-23,"v":3},{"t":1998.58,"l":-23,"v":5},{"t":1998.75,"l":-23,"v":3},{"t":1998.92,"l":-23,"v":3},{"t":1999.08,"l":-23,"v":3},{"t":1999.92,"l":-23,"v":1},{"t":2000.08,"l":-23,"v":2},{"t":2000.25,"l":-23,"v":2},{"t":2000.42,"l":-23,"v":3},{"t":2000.58,"l":-23,"v":3},{"t":2000.75,"l":-23,"v":2},{"t":2000.92,"l":-23,"v":2},{"t":2001.08,"l":-23,"v":3},{"t":2001.92,"l":-23,"v":2},{"t":2002.08,"l":-23,"v":3},{"t":2002.25,"l":-23,"v":1},{"t":2002.42,"l":-23,"v":4},{"t":2002.58,"l":-23,"v":3},{"t":2002.75,"l":-23,"v":1},{"t":2002.92,"l":-23,"v":1},{"t":2003.08,"l":-23,"v":2},{"t":2003.92,"l":-23,"v":3},{"t":2004.08,"l":-23,"v":1},{"t":2008.75,"l":-23,"v":1},{"t":2010.25,"l":-23,"v":2},{"t":2010.42,"l":-23,"v":1},{"t":2010.58,"l":-23,"v":1},{"t":2010.75,"l":-23,"v":1},{"t":2010.92,"l":-23,"v":1},{"t":2011.08,"l":-23,"v":1},{"t":2011.92,"l":-23,"v":3},
{"t":1996.75,"l":-25,"v":1},{"t":1996.92,"l":-25,"v":1},{"t":1997.92,"l":-25,"v":2},{"t":1998.08,"l":-25,"v":3},{"t":1998.25,"l":-25,"v":3},{"t":1998.42,"l":-25,"v":2},{"t":1998.58,"l":-25,"v":3},{"t":1998.75,"l":-25,"v":2},{"t":1998.92,"l":-25,"v":1},{"t":1999.08,"l":-25,"v":2},{"t":1999.92,"l":-25,"v":2},{"t":2000.08,"l":-25,"v":3},{"t":2000.25,"l":-25,"v":1},{"t":2000.42,"l":-25,"v":1},{"t":2000.58,"l":-25,"v":2},{"t":2000.75,"l":-25,"v":1},{"t":2000.92,"l":-25,"v":2},{"t":2001.08,"l":-25,"v":2},{"t":2001.92,"l":-25,"v":2},{"t":2002.08,"l":-25,"v":3},{"t":2002.25,"l":-25,"v":1},{"t":2002.42,"l":-25,"v":1},{"t":2002.58,"l":-25,"v":1},{"t":2002.75,"l":-25,"v":2},{"t":2002.92,"l":-25,"v":2},{"t":2003.08,"l":-25,"v":1},{"t":2003.92,"l":-25,"v":1},{"t":2004.08,"l":-25,"v":1},{"t":2005.75,"l":-25,"v":1},{"t":2006.08,"l":-25,"v":1},{"t":2008.92,"l":-25,"v":1},{"t":2009.92,"l":-25,"v":1},{"t":2010.08,"l":-25,"v":1},{"t":2010.25,"l":-25,"v":1},{"t":2010.42,"l":-25,"v":1},{"t":2010.58,"l":-25,"v":1},{"t":2010.92,"l":-25,"v":1},{"t":2011.08,"l":-25,"v":1},{"t":2011.92,"l":-25,"v":1},
{"t":1996.75,"l":-27,"v":1},{"t":1997.92,"l":-27,"v":1},{"t":1998.08,"l":-27,"v":1},{"t":1998.25,"l":-27,"v":3},{"t":1998.42,"l":-27,"v":3},{"t":1998.58,"l":-27,"v":2},{"t":1998.75,"l":-27,"v":2},{"t":1998.92,"l":-27,"v":3},{"t":1999.08,"l":-27,"v":2},{"t":1999.92,"l":-27,"v":2},{"t":2000.08,"l":-27,"v":2},{"t":2000.25,"l":-27,"v":1},{"t":2000.42,"l":-27,"v":1},{"t":2000.58,"l":-27,"v":1},{"t":2000.75,"l":-27,"v":1},{"t":2000.92,"l":-27,"v":2},{"t":2001.08,"l":-27,"v":2},{"t":2001.92,"l":-27,"v":2},{"t":2002.08,"l":-27,"v":3},{"t":2002.25,"l":-27,"v":1},{"t":2002.42,"l":-27,"v":2},{"t":2002.58,"l":-27,"v":1},{"t":2002.75,"l":-27,"v":1},{"t":2002.92,"l":-27,"v":1},{"t":2003.08,"l":-27,"v":2},{"t":2006.75,"l":-27,"v":1},{"t":2008.75,"l":-27,"v":1},{"t":2008.92,"l":-27,"v":1},{"t":2009.75,"l":-27,"v":1},{"t":2009.92,"l":-27,"v":1},{"t":2010.08,"l":-27,"v":1},{"t":2010.42,"l":-27,"v":1},{"t":2010.58,"l":-27,"v":1},{"t":2010.92,"l":-27,"v":1},{"t":2011.08,"l":-27,"v":1},{"t":2011.25,"l":-27,"v":1},{"t":2011.58,"l":-27,"v":1},{"t":2011.75,"l":-27,"v":1},{"t":2011.92,"l":-27,"v":1},
{"t":1996.92,"l":-29,"v":1},{"t":1997.92,"l":-29,"v":1},{"t":1998.08,"l":-29,"v":1},{"t":1998.25,"l":-29,"v":2},{"t":1998.42,"l":-29,"v":2},{"t":1998.58,"l":-29,"v":2},{"t":1998.75,"l":-29,"v":2},{"t":1998.92,"l":-29,"v":3},{"t":1999.08,"l":-29,"v":2},{"t":1999.92,"l":-29,"v":1},{"t":2000.08,"l":-29,"v":1},{"t":2000.25,"l":-29,"v":2},{"t":2000.42,"l":-29,"v":1},{"t":2000.58,"l":-29,"v":2},{"t":2000.75,"l":-29,"v":2},{"t":2000.92,"l":-29,"v":1},{"t":2001.08,"l":-29,"v":2},{"t":2001.92,"l":-29,"v":2},{"t":2002.08,"l":-29,"v":2},{"t":2002.25,"l":-29,"v":2},{"t":2002.42,"l":-29,"v":2},{"t":2002.58,"l":-29,"v":2},{"t":2002.92,"l":-29,"v":2},{"t":2003.08,"l":-29,"v":1},{"t":2008.42,"l":-29,"v":1},{"t":2009.75,"l":-29,"v":1},{"t":2009.92,"l":-29,"v":1},{"t":2010.08,"l":-29,"v":1},{"t":2010.75,"l":-29,"v":2},{"t":2010.92,"l":-29,"v":1},{"t":2011.08,"l":-29,"v":1},{"t":2011.25,"l":-29,"v":1},{"t":2011.58,"l":-29,"v":1},{"t":2011.75,"l":-29,"v":1},{"t":2011.92,"l":-29,"v":1},
{"t":1996.92,"l":-31,"v":1},{"t":1997.92,"l":-31,"v":1},{"t":1998.25,"l":-31,"v":1},{"t":1998.42,"l":-31,"v":1},{"t":1998.58,"l":-31,"v":1},{"t":1998.75,"l":-31,"v":1},{"t":1998.92,"l":-31,"v":1},{"t":1999.08,"l":-31,"v":1},{"t":1999.92,"l":-31,"v":1},{"t":2000.08,"l":-31,"v":2},{"t":2000.42,"l":-31,"v":1},{"t":2000.58,"l":-31,"v":1},{"t":2000.75,"l":-31,"v":2},{"t":2002.08,"l":-31,"v":1},{"t":2002.25,"l":-31,"v":1},{"t":2002.42,"l":-31,"v":1},{"t":2002.75,"l":-31,"v":1},{"t":2008.42,"l":-31,"v":1},{"t":2009.75,"l":-31,"v":1},{"t":2010.75,"l":-31,"v":2},{"t":2010.92,"l":-31,"v":1},{"t":2011.08,"l":-31,"v":1},{"t":2011.25,"l":-31,"v":1},{"t":2011.58,"l":-31,"v":1},{"t":2011.75,"l":-31,"v":1},{"t":2011.92,"l":-31,"v":1},
{"t":1997.08,"l":-33,"v":1},{"t":1997.25,"l":-33,"v":1},{"t":1998.08,"l":-33,"v":1},{"t":1998.25,"l":-33,"v":1},{"t":1998.58,"l":-33,"v":1},{"t":1998.75,"l":-33,"v":1},{"t":1999.08,"l":-33,"v":1},{"t":1999.92,"l":-33,"v":1},{"t":2000.08,"l":-33,"v":2},{"t":2000.42,"l":-33,"v":1},{"t":2000.58,"l":-33,"v":2},{"t":2000.75,"l":-33,"v":2},{"t":2001.92,"l":-33,"v":1},{"t":2002.25,"l":-33,"v":1},{"t":2002.42,"l":-33,"v":1},{"t":2002.58,"l":-33,"v":1},{"t":2009.42,"l":-33,"v":1},{"t":2010.42,"l":-33,"v":1},{"t":2010.92,"l":-33,"v":1},{"t":2011.25,"l":-33,"v":1},{"t":2011.58,"l":-33,"v":1},{"t":2011.75,"l":-33,"v":1},{"t":2011.92,"l":-33,"v":1},
{"t":1996.58,"l":-35,"v":1},{"t":1997.42,"l":-35,"v":1},{"t":1997.58,"l":-35,"v":1},{"t":1997.92,"l":-35,"v":1},{"t":1998.08,"l":-35,"v":1},{"t":1998.42,"l":-35,"v":1},{"t":1998.75,"l":-35,"v":1},{"t":1999.92,"l":-35,"v":1},{"t":2000.08,"l":-35,"v":1},{"t":2000.25,"l":-35,"v":1},{"t":2000.42,"l":-35,"v":1},{"t":2000.58,"l":-35,"v":1},{"t":2000.75,"l":-35,"v":1},{"t":2002.08,"l":-35,"v":1},{"t":2002.42,"l":-35,"v":1},{"t":2002.58,"l":-35,"v":1},{"t":2003.25,"l":-35,"v":1},{"t":2003.42,"l":-35,"v":1},{"t":2011.75,"l":-35,"v":1},{"t":2011.92,"l":-35,"v":1},
{"t":1997.42,"l":-37,"v":1},{"t":1998.08,"l":-37,"v":1},{"t":1998.75,"l":-37,"v":1},{"t":2000.25,"l":-37,"v":1},{"t":2000.42,"l":-37,"v":1},{"t":2000.58,"l":-37,"v":1},{"t":2003.25,"l":-37,"v":1},{"t":2003.42,"l":-37,"v":1},{"t":2009.75,"l":-37,"v":1},
{"t":1996.42,"l":-39,"v":1},{"t":1997.92,"l":-39,"v":1},{"t":1998.08,"l":-39,"v":1},{"t":1998.25,"l":-39,"v":1},{"t":1998.75,"l":-39,"v":1},{"t":1999.42,"l":-39,"v":1},{"t":2000.42,"l":-39,"v":1},{"t":2000.58,"l":-39,"v":1}
],
"circles":[
{"t":1997.5,"t0":1997.05,"t2":1998.03,"l":30,"l2":28.7,"k":"s"},{"t":1997.5,"t0":1997.05,"t2":1998.03,"l":25,"l2":23.9,"k":"s"},{"t":1997.5,"t0":1997.05,"t2":1998.03,"l":20,"l2":19.1,"k":"s"},{"t":1997.5,"t0":1997.05,"t2":1998.03,"l":15,"l2":14.8,"k":"c"},{"t":1997.5,"t0":1997.05,"t2":1998.03,"l":-15,"l2":-14.05,"k":"d"},{"t":1997.5,"t0":1997.05,"t2":1998.03,"l":-20,"l2":-19.2,"k":"d"},{"t":1997.5,"t0":1997.05,"t2":1998.03,"l":-25,"l2":-24.1,"k":"d"},{"t":1997.5,"t0":1997.05,"t2":1998.03,"l":-30,"l2":-28.8,"k":"d"},
{"t":1999.5,"t0":1999.05,"t2":2000.03,"l":35,"l2":33.9,"k":"s"},{"t":1999.5,"t0":1999.05,"t2":2000.03,"l":30,"l2":29,"k":"s"},{"t":1999.5,"t0":1999.05,"t2":2000.03,"l":25,"l2":24,"k":"s"},{"t":1999.5,"t0":1999.05,"t2":2000.03,"l":20,"l2":19.1,"k":"s"},{"t":1999.5,"t0":1999.05,"t2":2000.03,"l":15,"l2":14.5,"k":"s"},{"t":1999.5,"t0":1999.05,"t2":2000.03,"l":10,"l2":9.55,"k":"s"},{"t":1999.5,"t0":1999.05,"t2":2000.03,"l":5,"l2":4.75,"k":"c"},{"t":1999.5,"t0":1999.05,"t2":2000.03,"l":-5,"l2":-3.7,"k":"d"},{"t":1999.5,"t0":1999.05,"t2":2000.03,"l":-10,"l2":-8.9,"k":"d"},{"t":1999.5,"t0":1999.05,"t2":2000.03,"l":-15,"l2":-13.8,"k":"d"},{"t":1999.5,"t0":1999.05,"t2":2000.03,"l":-20,"l2":-19,"k":"d"},{"t":1999.5,"t0":1999.05,"t2":2000.03,"l":-25,"l2":-24.1,"k":"d"},{"t":1999.5,"t0":1999.05,"t2":2000.03,"l":-30,"l2":-29.2,"k":"d"},{"t":1999.5,"t0":1999.05,"t2":2000.03,"l":-35,"l2":-34,"k":"d"},
{"t":2001.5,"t0":2001.05,"t2":2002.03,"l":30,"l2":29.1,"k":"s"},{"t":2001.5,"t0":2001.05,"t2":2002.03,"l":25,"l2":24.1,"k":"s"},{"t":2001.5,"t0":2001.05,"t2":2002.03,"l":20,"l2":19.05,"k":"s"},{"t":2001.5,"t0":2001.05,"t2":2002.03,"l":15,"l2":14.1,"k":"s"},{"t":2001.5,"t0":2001.05,"t2":2002.03,"l":10,"l2":9.4,"k":"s"},{"t":2001.5,"t0":2001.05,"t2":2002.03,"l":5,"l2":4.6,"k":"s"},{"t":2001.5,"t0":2001.05,"t2":2002.03,"l":0,"l2":-0.1,"k":"s"},{"t":2001.5,"t0":2001.05,"t2":2002.03,"l":-5,"l2":-4.4,"k":"d"},{"t":2001.5,"t0":2001.05,"t2":2002.03,"l":-10,"l2":-9.05,"k":"d"},{"t":2001.5,"t0":2001.05,"t2":2002.03,"l":-15,"l2":-14.05,"k":"d"},{"t":2001.5,"t0":2001.05,"t2":2002.03,"l":-20,"l2":-19.3,"k":"d"},{"t":2001.5,"t0":2001.05,"t2":2002.03,"l":-25,"l2":-23.95,"k":"d"},{"t":2001.5,"t0":2001.05,"t2":2002.03,"l":-30,"l2":-29,"k":"d"},{"t":2001.5,"t0":2001.05,"t2":2002.03,"l":-35,"l2":-33.95,"k":"d"},
{"t":2003.5,"t0":2003.05,"t2":2004.03,"l":25,"l2":25,"k":"c"},{"t":2003.5,"t0":2003.05,"t2":2004.03,"l":20,"l2":19.05,"k":"s"},{"t":2003.5,"t0":2003.05,"t2":2004.03,"l":15,"l2":14.1,"k":"s"},{"t":2003.5,"t0":2003.05,"t2":2004.03,"l":10,"l2":9.05,"k":"s"},{"t":2003.5,"t0":2003.05,"t2":2004.03,"l":5,"l2":4.05,"k":"s"},{"t":2003.5,"t0":2003.05,"t2":2004.03,"l":0,"l2":0.6,"k":"d"},{"t":2003.5,"t0":2003.05,"t2":2004.03,"l":-5,"l2":-4.1,"k":"d"},{"t":2003.5,"t0":2003.05,"t2":2004.03,"l":-10,"l2":-9.1,"k":"d"},{"t":2003.5,"t0":2003.05,"t2":2004.03,"l":-15,"l2":-14.1,"k":"d"},{"t":2003.5,"t0":2003.05,"t2":2004.03,"l":-20,"l2":-18.95,"k":"d"},{"t":2003.5,"t0":2003.05,"t2":2004.03,"l":-25,"l2":-24.1,"k":"d"},{"t":2003.5,"t0":2003.05,"t2":2004.03,"l":-30,"l2":-28.7,"k":"d"},
{"t":2005.5,"t0":2005.05,"t2":2006.03,"l":20,"l2":19.5,"k":"s"},{"t":2005.5,"t0":2005.05,"t2":2006.03,"l":15,"l2":14.65,"k":"s"},{"t":2005.5,"t0":2005.05,"t2":2006.03,"l":10,"l2":9.5,"k":"s"},{"t":2005.5,"t0":2005.05,"t2":2006.03,"l":5,"l2":4.2,"k":"s"},{"t":2005.5,"t0":2005.05,"t2":2006.03,"l":0,"l2":-0.15,"k":"c"},{"t":2005.5,"t0":2005.05,"t2":2006.03,"l":-5,"l2":-4.9,"k":"d"},{"t":2005.5,"t0":2005.05,"t2":2006.03,"l":-10,"l2":-9.4,"k":"d"},{"t":2005.5,"t0":2005.05,"t2":2006.03,"l":-15,"l2":-13.8,"k":"d"},{"t":2005.5,"t0":2005.05,"t2":2006.03,"l":-20,"l2":-18.95,"k":"d"},
{"t":2007.5,"t0":2007.05,"t2":2008.03,"l":-5,"l2":-4.2,"k":"d"},{"t":2007.5,"t0":2007.05,"t2":2008.03,"l":-10,"l2":-9.3,"k":"d"},{"t":2007.5,"t0":2007.05,"t2":2008.03,"l":-15,"l2":-14.5,"k":"d"},
{"t":2009.5,"t0":2009.05,"t2":2010.03,"l":25,"l2":23.7,"k":"s"},{"t":2009.5,"t0":2009.05,"t2":2010.03,"l":20,"l2":19,"k":"s"},{"t":2009.5,"t0":2009.05,"t2":2010.03,"l":15,"l2":14.3,"k":"s"},{"t":2009.5,"t0":2009.05,"t2":2010.03,"l":-20,"l2":-20.3,"k":"c"},{"t":2009.5,"t0":2009.05,"t2":2010.03,"l":-25,"l2":-24.6,"k":"d"},
{"t":2011.5,"t0":2011.05,"t2":2012.02,"l":25,"l2":23.7,"k":"s"},{"t":2011.5,"t0":2011.05,"t2":2012.02,"l":20,"l2":18.9,"k":"s"},{"t":2011.5,"t0":2011.05,"t2":2012.02,"l":15,"l2":14,"k":"s"},{"t":2011.5,"t0":2011.05,"t2":2012.02,"l":10,"l2":9.25,"k":"s"},{"t":2011.5,"t0":2011.05,"t2":2012.02,"l":-15,"l2":-14.5,"k":"d"},{"t":2011.5,"t0":2011.05,"t2":2012.02,"l":-20,"l2":-19.75,"k":"d"},{"t":2011.5,"t0":2011.05,"t2":2012.02,"l":-25,"l2":-24.45,"k":"d"}
]},
"encoding":{"x":{"field":"t","type":"quantitative","title":"Time","scale":{"domain":[1995.66,2012.34],"nice":false,"zero":false},"axis":{"values":[1996,2000,2005,2010],"format":"d","grid":false,"domainColor":"#c8c8c8","domainWidth":1.5,"tickColor":"#888888","tickSize":-5,"tickWidth":1,"labelFontSize":30,"labelColor":"black","labelPadding":10,"labelFont":"Liberation Serif","titleFont":"Liberation Serif","titleFontSize":30,"titleFontWeight":"normal","titleColor":"black","titlePadding":5}},"y":{"field":"l","type":"quantitative","title":"Latitude, negative to the South","scale":{"domain":[-43.21,40.89],"nice":false,"zero":false},"axis":{"values":[-40,-30,-20,-10,0,10,20,30,40],"grid":false,"domainColor":"#c8c8c8","domainWidth":1.5,"tickColor":"#888888","tickSize":-5,"tickWidth":1,"labelFontSize":30,"labelColor":"black","labelPadding":4,"labelFont":"Liberation Serif","titleFont":"Liberation Serif","titleFontSize":30.5,"titleFontWeight":"normal","titleColor":"black","titlePadding":9}}},
"layer":[
{"data":{"name":"cells"},"mark":{"type":"rect","width":9.5,"height":11.4},"encoding":{"color":{"field":"v","type":"ordinal","legend":null,"scale":{"domain":[1,2,3,4,5],"range":["#aaff00","#ffff00","#ff9900","#ff5500","#665033"]}}}},
{"data":{"values":[{"t":1995.66,"t2":2012.34,"l":0}]},"mark":{"type":"rule","color":"#777777","strokeWidth":2.5},"encoding":{"x2":{"field":"t2"}}},
{"data":{"name":"circles"},"mark":{"type":"point","shape":"circle","size":1600,"fill":"white","stroke":"black","opacity":1,"fillOpacity":1},"encoding":{"strokeDash":{"field":"k","type":"nominal","legend":null,"scale":{"domain":["s","d","c"],"range":[[1,0],[8,7],[1,0]]}},"strokeWidth":{"field":"k","type":"nominal","legend":null,"scale":{"type":"ordinal","domain":["s","d","c"],"range":[2.6,2.6,1]}}}},
{"data":{"name":"circles"},"transform":[{"filter":"datum.k=='c'"}],"mark":{"type":"point","shape":"circle","size":380,"fill":"transparent","stroke":"black","strokeWidth":1,"opacity":1}},
{"data":{"name":"circles"},"mark":{"type":"rule","color":"black","strokeWidth":1,"strokeDash":[7,6]},"encoding":{"x":{"field":"t0","type":"quantitative"},"x2":{"field":"t"},"y2":{"field":"l"}}},
{"data":{"name":"circles"},"mark":{"type":"rule","color":"black","strokeWidth":3},"encoding":{"x2":{"field":"t2"},"y2":{"field":"l2"}}},
{"data":{"values":[{"t":1994.065,"t2":2012.416,"l":67.32,"l2":51.96}]},"mark":{"type":"rect","fill":{"x1":0,"y1":0,"x2":1,"y2":0,"gradient":"linear","stops":[{"offset":0,"color":"#3333b2"},{"offset":0.25,"color":"#3131ac"},{"offset":0.6,"color":"#222278"},{"offset":0.8,"color":"#14144f"},{"offset":0.932,"color":"#10101c"},{"offset":0.935,"color":"#000028"},{"offset":1,"color":"#000000"}]}},"encoding":{"x2":{"field":"t2"},"y2":{"field":"l2"}}},
{"data":{"values":[{"t":1994.065,"t2":2012.416,"l":51.96,"l2":49.82}]},"mark":{"type":"rect","fill":{"x1":0,"y1":0,"x2":0,"y2":1,"gradient":"linear","stops":[{"offset":0,"color":"#999999"},{"offset":0.7,"color":"#a8a8a8"},{"offset":1,"color":"#ffffff"}]}},"encoding":{"x2":{"field":"t2"},"y2":{"field":"l2"}}},
{"data":{"values":[{"t":1994.065,"t2":2003.24,"l":-62.3,"l2":-69.82}]},"mark":{"type":"rect","fill":"#000000"},"encoding":{"x2":{"field":"t2"},"y2":{"field":"l2"}}},
{"data":{"values":[{"t":2003.24,"t2":2012.416,"l":-62.3,"l2":-69.82}]},"mark":{"type":"rect","fill":"#3333b2"},"encoding":{"x2":{"field":"t2"},"y2":{"field":"l2"}}},
{"data":{"values":[{"t":1994.6,"l":56.2,"s":"Баттерфляй-диаграмма: S>300 MSH"}]},"mark":{"type":"text","align":"left","baseline":"alphabetic","color":"white","fontSize":35.6,"font":"Liberation Serif"},"encoding":{"text":{"field":"s"}}},
{"data":{"values":[{"t":2011.99,"l":-68.2,"s":"5"}]},"mark":{"type":"text","align":"center","baseline":"alphabetic","color":"#dddddd","fontSize":21,"font":"Liberation Serif"},"encoding":{"text":{"field":"s"}}},
{"data":{"values":[{"t":2007.35,"t2":2008.61,"l":-53.27}]},"mark":{"type":"rule","color":"black","strokeWidth":2.5},"encoding":{"x2":{"field":"t2"}}},
{"data":{"values":[{"t":2007.98,"l":-47.0,"l2":-59.5}]},"mark":{"type":"rule","color":"black","strokeWidth":2.5},"encoding":{"y2":{"field":"l2"}}},
{"data":{"values":[{"t":2007.98,"l":-53.27,"a0":4.71,"a1":6.54},{"t":2007.98,"l":-53.27,"a0":0.61,"a1":0.87},{"t":2007.98,"l":-53.27,"a0":1.36,"a1":1.6},{"t":2007.98,"l":-53.27,"a0":1.57,"a1":3.4},{"t":2007.98,"l":-53.27,"a0":3.75,"a1":4.01},{"t":2007.98,"l":-53.27,"a0":4.5,"a1":4.75}]},"mark":{"type":"arc","innerRadius":33.8,"outerRadius":36,"fill":"black"},"encoding":{"theta":{"field":"a0","type":"quantitative","scale":null},"theta2":{"field":"a1"}}},
{"data":{"values":[{"t":2007.73,"l":-51.3,"s":"+"},{"t":2008.22,"l":-51.3,"s":"-"},{"t":2007.73,"l":-55.4,"s":"-"},{"t":2008.22,"l":-55.4,"s":"+"}]},"mark":{"type":"text","align":"center","baseline":"middle","color":"black","fontSize":22,"font":"Liberation Serif"},"encoding":{"text":{"field":"s"}}}
]}
